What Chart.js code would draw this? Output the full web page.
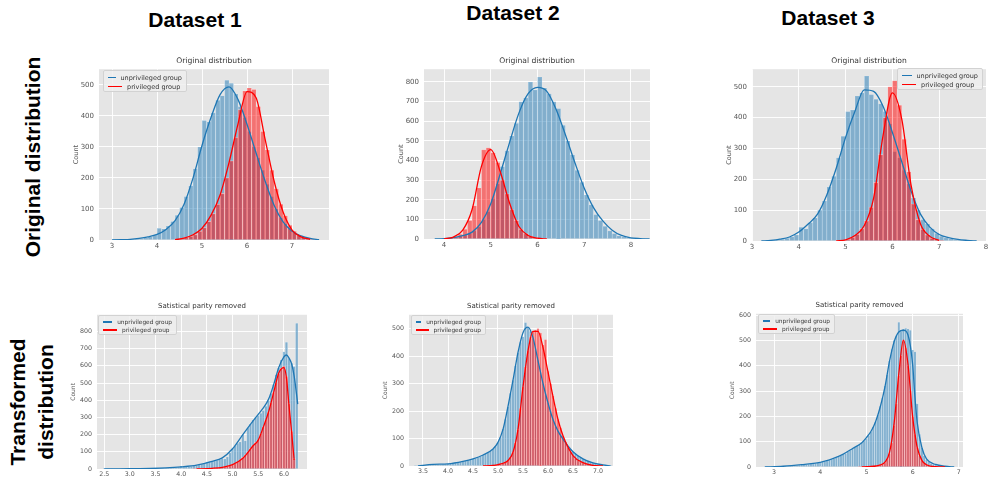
<!DOCTYPE html>
<html>
<head>
<meta charset="utf-8">
<script src="https://cdn.jsdelivr.net/npm/chart.js@4.4.0/dist/chart.umd.min.js"></script>
<style>
  html, body { margin: 0; padding: 0; background: #fff; overflow: hidden; }
  #page { position: relative; width: 989px; height: 481px; }
  canvas { position: absolute; }
  .head { position: absolute; font-family: "Liberation Sans", Arial, sans-serif; font-weight: bold;
          font-size: 21px; color: #000; transform: translate(-50%, -50%); white-space: nowrap; }
  .rowlab { position: absolute; font-family: "Liberation Sans", Arial, sans-serif; font-weight: bold;
            font-size: 21px; line-height: 28px; color: #000; text-align: center; white-space: nowrap;
            transform: translate(-50%, -50%) rotate(-90deg); }
  .ptitle { position: absolute; font-family: "DejaVu Sans", sans-serif; color: #333;
            transform: translate(-50%, -50%); white-space: nowrap; }
  .legend { position: absolute; box-sizing: border-box; padding: 2px 4px; background: rgba(238,238,238,0.85);
            border: 0.6px solid #d2d2d2; border-radius: 2px; font-family: "DejaVu Sans", sans-serif; color: #333; }
  .li { display: flex; align-items: center; white-space: nowrap; }
  .ln { display: inline-block; width: 14px; height: 1.5px; margin-right: 5px; }
</style>
</head>
<body>
<div id="page"></div>
<script>
// ---- Dataset 1, original distribution
const bins1 = [3.05,3.15,3.25,3.35,3.45,3.55,3.65,3.75,3.85,3.95,4.05,4.15,4.25,4.35,4.45,4.55,4.65,4.75,4.85,4.95,5.05,5.15,5.25,5.35,5.45,5.55,5.65,5.75,5.85,5.95,6.05,6.15,6.25,6.35,6.45,6.55,6.65,6.75,6.85,6.95,7.05,7.15,7.25,7.35,7.45,7.55];
const blue1 = [1,0,1,2,2,4,5,7,11,16,38,36,45,60,80,105,140,175,230,300,385,380,410,450,465,515,505,470,430,395,350,300,265,225,180,140,100,72,52,38,24,15,10,6,3,1];
const red1  = [0,0,0,0,0,0,0,0,0,0,0,0,0,0,2,4,8,12,18,28,40,60,85,115,150,200,255,330,420,480,490,485,430,350,290,225,165,115,78,48,28,16,9,4,1,0];
const kx1 = [3.0,3.2,3.4,3.6,3.8,4.0,4.2,4.4,4.6,4.8,5.0,5.2,5.4,5.6,5.8,6.0,6.2,6.4,6.6,6.8,7.0,7.2,7.4,7.6];
const blueK1 = [0,1,2,5,10,18,34,62,115,200,305,395,468,493,452,372,280,190,112,58,28,13,5,1];
const redK1  = [null,null,null,null,null,null,null,1,6,17,38,80,145,250,375,478,458,325,190,90,32,10,2,null];

// ---- Dataset 2, original distribution
const bins2 = [3.85,3.95,4.05,4.15,4.25,4.35,4.45,4.55,4.65,4.75,4.85,4.95,5.05,5.15,5.25,5.35,5.45,5.55,5.65,5.75,5.85,5.95,6.05,6.15,6.25,6.35,6.45,6.55,6.65,6.75,6.85,6.95,7.05,7.15,7.25,7.35,7.45,7.55,7.65,7.75,7.85,7.95,8.05,8.15,8.25,8.35];
const blue2 = [0,1,3,5,8,13,20,28,42,62,100,140,205,280,370,450,525,590,700,720,800,760,825,770,740,700,665,580,500,430,350,290,225,175,125,95,65,42,28,17,10,6,4,2,1,0];
const red2  = [0,0,2,5,12,25,50,95,170,260,455,465,440,390,300,230,150,95,50,28,14,6,2,0,0,0,0,0,0,0,0,0,0,0,0,0,0,0,0,0,0,0,0,0,0,0];
const kx2 = [3.8,4.0,4.2,4.4,4.6,4.8,5.0,5.2,5.4,5.6,5.8,6.0,6.2,6.4,6.6,6.8,7.0,7.2,7.4,7.6,7.8,8.0,8.2,8.4];
const blueK2 = [0,2,7,17,35,85,180,330,490,640,740,772,752,660,530,390,260,160,92,45,18,6,2,0];
const redK2  = [null,1,10,45,150,370,455,345,185,65,18,4,0,null,null,null,null,null,null,null,null,null,null,null];

// ---- Dataset 3, original distribution
const bins3 = [3.25,3.35,3.45,3.55,3.65,3.75,3.85,3.95,4.05,4.15,4.25,4.35,4.45,4.55,4.65,4.75,4.85,4.95,5.05,5.15,5.25,5.35,5.45,5.55,5.65,5.75,5.85,5.95,6.05,6.15,6.25,6.35,6.45,6.55,6.65,6.75,6.85,6.95,7.05,7.15,7.25,7.35,7.45,7.55,7.65,7.75];
const blue3 = [0,1,2,4,6,9,14,20,45,40,60,75,100,130,175,210,270,340,420,425,470,480,535,475,460,445,420,380,290,270,230,185,140,100,70,55,40,25,16,11,7,5,3,2,1,0];
const red3  = [0,0,0,0,0,0,0,0,0,0,0,0,0,0,0,0,1,3,6,12,22,40,65,110,190,280,400,500,520,440,330,225,120,70,38,20,9,4,1,0,0,0,0,0,0,0];
const kx3 = [3.2,3.4,3.6,3.8,4.0,4.2,4.4,4.6,4.8,5.0,5.2,5.4,5.6,5.8,6.0,6.2,6.4,6.6,6.8,7.0,7.2,7.4,7.6,7.8];
const blueK3 = [0,2,6,13,29,55,87,150,236,336,421,490,485,437,352,257,161,87,45,21,11,5,2,0];
const redK3  = [null,null,null,null,null,null,null,null,0,4,18,50,140,342,480,395,180,55,15,2,null,null,null,null];

// ---- Dataset 1, statistical parity removed
const bins4 = [2.5,2.55,2.6,2.65,2.7,2.75,2.8,2.85,2.9,2.95,3,3.05,3.1,3.15,3.2,3.25,3.3,3.35,3.4,3.45,3.5,3.55,3.6,3.65,3.7,3.75,3.8,3.85,3.9,3.95,4,4.05,4.1,4.15,4.2,4.25,4.3,4.35,4.4,4.45,4.5,4.55,4.6,4.65,4.7,4.75,4.8,4.85,4.9,4.95,5,5.05,5.1,5.15,5.2,5.25,5.3,5.35,5.4,5.45,5.5,5.55,5.6,5.65,5.7,5.75,5.8,5.85,5.9,5.95,6,6.05,6.1,6.15,6.2,6.25];
const blue4 = [1,1,1,1,1,1,1,1,1,2,2,2,2,2,2,3,3,3,3,4,4,4,5,5,6,6,7,8,9,10,18,12,13,14,16,18,22,25,30,36,42,44,46,48,52,56,62,58,70,95,118,135,150,158,200,165,240,262,285,300,312,325,340,365,398,440,490,548,588,634,682,738,645,615,596,848];
const red4  = [0,0,0,0,0,0,0,0,0,0,0,0,0,0,0,0,0,0,0,0,0,0,0,0,0,0,0,0,0,0,0,0,0,0,0,1,1,2,2,3,3,4,4,5,6,8,10,12,15,20,25,32,42,55,68,82,100,120,138,155,170,205,245,285,330,385,445,500,555,585,598,540,380,220,60,0];
const kx4 = [2.5,2.8,3.1,3.4,3.7,4.0,4.3,4.6,4.8,5.0,5.2,5.4,5.5,5.6,5.7,5.8,5.9,6.0,6.05,6.1,6.15,6.2,6.27];
const blueK4 = [1,1,2,3,6,12,22,44,65,118,200,280,318,355,405,490,590,652,663,645,612,540,377];
const redK4  = [null,null,null,null,null,null,0,4,10,25,62,135,168,244,330,444,558,590,530,368,215,53,null];

// ---- Dataset 2, statistical parity removed
const bins5 = [3.35,3.4,3.45,3.5,3.55,3.6,3.65,3.7,3.75,3.8,3.85,3.9,3.95,4,4.05,4.1,4.15,4.2,4.25,4.3,4.35,4.4,4.45,4.5,4.55,4.6,4.65,4.7,4.75,4.8,4.85,4.9,4.95,5,5.05,5.1,5.15,5.2,5.25,5.3,5.35,5.4,5.45,5.5,5.55,5.6,5.65,5.7,5.75,5.8,5.85,5.9,5.95,6,6.05,6.1,6.15,6.2,6.25,6.3,6.35,6.4,6.45,6.5,6.55,6.6,6.65,6.7,6.75,6.8,6.85,6.9,6.95,7,7.05,7.1,7.15,7.2,7.25];
const blue5 = [1,1,2,2,3,4,6,7,7,6,5,6,7,8,9,10,11,13,15,17,19,21,23,26,28,31,35,40,45,50,55,62,72,86,105,135,170,215,265,312,365,412,450,470,522,505,490,465,425,385,340,300,262,230,200,170,148,128,112,98,85,73,62,52,45,38,32,26,22,17,14,11,9,7,5,4,3,2,1];
const red5  = [0,0,0,0,0,0,0,0,0,0,0,0,0,0,0,0,0,0,0,0,0,0,0,0,0,0,0,0,1,1,2,2,3,5,6,10,14,20,32,50,85,133,210,288,360,419,470,490,495,500,485,440,460,345,300,255,210,170,140,110,88,68,52,38,28,20,15,12,8,5,3,2,1,0,0,0,0,0,0];
const kx5 = [3.4,3.7,4.0,4.3,4.5,4.7,4.9,5.0,5.1,5.2,5.3,5.4,5.5,5.6,5.7,5.8,5.9,6.0,6.1,6.2,6.3,6.5,6.7,6.9,7.1,7.25];
const blueK5 = [0,6,8,17,26,40,62,86,133,217,312,413,485,505,467,383,300,229,169,127,98,52,26,11,4,0];
const redK5  = [null,null,null,null,null,0,2,5,10,20,50,133,288,419,490,490,431,342,252,169,110,38,12,2,0,null];

// ---- Dataset 3, statistical parity removed
const bins6 = [2.85,2.9,2.95,3,3.05,3.1,3.15,3.2,3.25,3.3,3.35,3.4,3.45,3.5,3.55,3.6,3.65,3.7,3.75,3.8,3.85,3.9,3.95,4,4.05,4.1,4.15,4.2,4.25,4.3,4.35,4.4,4.45,4.5,4.55,4.6,4.65,4.7,4.75,4.8,4.85,4.9,4.95,5,5.05,5.1,5.15,5.2,5.25,5.3,5.35,5.4,5.45,5.5,5.55,5.6,5.65,5.7,5.75,5.8,5.85,5.9,5.95,6,6.05,6.1,6.15,6.2,6.25,6.3,6.35,6.4,6.45,6.5,6.55,6.6,6.65,6.7,6.75,6.8,6.85];
const blue6 = [1,1,1,1,2,2,2,3,3,3,4,4,5,6,7,8,9,10,11,12,13,14,16,17,20,22,24,27,30,33,37,40,45,50,54,60,66,72,78,84,90,96,104,112,125,138,158,180,205,240,275,320,365,420,465,500,520,572,535,545,548,545,540,462,455,250,130,75,45,30,20,14,10,8,6,4,3,2,2,1,1];
const red6  = [0,0,0,0,0,0,0,0,0,0,0,0,0,0,0,0,0,0,0,0,0,0,0,0,0,0,0,0,0,0,0,0,0,0,0,0,0,0,0,0,1,1,1,2,2,3,3,4,6,8,12,18,32,55,95,165,250,360,440,500,470,400,300,200,130,78,45,26,16,10,6,4,2,1,1,0,0,0,0,0,0];
const kx6 = [2.8,3.2,3.6,3.9,4.1,4.3,4.5,4.7,4.9,5.0,5.1,5.2,5.3,5.4,5.5,5.6,5.7,5.8,5.9,6.0,6.05,6.1,6.2,6.3,6.5,6.7,6.9];
const blueK6 = [0,3,9,15,23,35,51,73,96,116,141,180,238,315,418,495,533,540,521,405,276,174,77,32,10,3,0];
const redK6  = [null,null,null,null,null,null,null,null,0,1,2,4,8,19,58,174,366,501,405,199,130,77,26,9,1,0,null];

const series = [
  {bins: bins1, blue: blue1, red: red1, kx: kx1, blueK: blueK1, redK: redK1},
  {bins: bins2, blue: blue2, red: red2, kx: kx2, blueK: blueK2, redK: redK2},
  {bins: bins3, blue: blue3, red: red3, kx: kx3, blueK: blueK3, redK: redK3},
  {bins: bins4, blue: blue4, red: red4, kx: kx4, blueK: blueK4, redK: redK4},
  {bins: bins5, blue: blue5, red: red5, kx: kx5, blueK: blueK5, redK: redK5},
  {bins: bins6, blue: blue6, red: red6, kx: kx6, blueK: blueK6, redK: redK6}
];

// plot frames: plot-area box in page pixels, axis ranges, legend box
const frames = [
  {l: 99,  t: 66,  r: 329, b: 240, xMin: 2.71, xMax: 7.82, xStep: 1,   yMax: 550, row: 0, legend: [103, 70, 84, 22]},
  {l: 424, t: 66,  r: 650, b: 239, xMin: 3.57, xMax: 8.41, xStep: 1,   yMax: 865, row: 0, legend: null},
  {l: 752, t: 66,  r: 986, b: 241, xMin: 3,    xMax: 8,    xStep: 1,   yMax: 557, row: 0, legend: [897, 68, 86, 22]},
  {l: 97,  t: 312, r: 307, b: 469, xMin: 2.36, xMax: 6.45, xStep: 0.5, yMax: 897, row: 1, legend: [98, 315, 79, 20]},
  {l: 409, t: 312, r: 613, b: 466, xMin: 3.22, xMax: 7.3,  xStep: 0.5, yMax: 550, row: 1, legend: [411, 315, 75, 20]},
  {l: 756, t: 311, r: 963, b: 467, xMin: 2.61, xMax: 7.09, xStep: 1,   yMax: 605, row: 1, legend: [758, 314, 77, 20]}
];
const rowStyle = [
  {title: 'Original distribution', titleSize: 7.6, tickSize: 7, labelSize: 6.5, legendSize: 6.5},
  {title: 'Satistical parity removed', titleSize: 7, tickSize: 6.3, labelSize: 6, legendSize: 5.8}
];

const page = document.getElementById('page');
const AX_W = 30, AX_H = 14, PAD_T = 6, PAD_R = 10;

function addDiv(cls, html, style) {
  const d = document.createElement('div');
  d.className = cls;
  d.innerHTML = html;
  Object.assign(d.style, style);
  page.appendChild(d);
  return d;
}

addDiv('head', 'Dataset 1', {left: '195px', top: '20px'});
addDiv('head', 'Dataset 2', {left: '513px', top: '13px'});
addDiv('head', 'Dataset 3', {left: '828px', top: '18px'});
addDiv('rowlab', 'Original distribution', {left: '33px', top: '157px'});
addDiv('rowlab', 'Transformed<br>distribution', {left: '32px', top: '402px'});

const plotBg = {
  id: 'plotBg',
  beforeDraw(chart) {
    const {ctx, chartArea: a} = chart;
    ctx.save();
    ctx.fillStyle = '#E5E5E5';
    ctx.fillRect(a.left, a.top, a.right - a.left, a.bottom - a.top);
    ctx.restore();
  }
};

const toPts = (xs, ys) => xs.map((x, i) => ({x: x, y: ys[i]}));

// ticks on every multiple of step inside the axis range
function stepTicks(step) {
  return sc => {
    const out = [];
    for (let v = Math.ceil(sc.min / step - 1e-9) * step; v <= sc.max + 1e-9; v += step) {
      out.push({value: Math.round(v * 1000) / 1000});
    }
    sc.ticks = out;
  };
}

function makePlot(s, f) {
  const st = rowStyle[f.row];
  const W = f.r - f.l + AX_W + PAD_R;
  const H = f.b - f.t + PAD_T + AX_H;
  const cv = document.createElement('canvas');
  cv.width = W; cv.height = H;
  Object.assign(cv.style, {left: (f.l - AX_W) + 'px', top: (f.t - PAD_T) + 'px', width: W + 'px', height: H + 'px'});
  page.appendChild(cv);

  const tickFont = {family: 'DejaVu Sans', size: st.tickSize};
  const barCommon = {type: 'bar', grouped: false, barPercentage: 1, categoryPercentage: 1,
                     borderWidth: 0.4, borderColor: 'rgba(255,255,255,0.7)'};
  const lineCommon = {type: 'line', pointRadius: 0, borderWidth: 1.3, cubicInterpolationMode: 'monotone', spanGaps: false};

  new Chart(cv, {
    type: 'bar',
    data: {
      datasets: [
        Object.assign({}, lineCommon, {data: toPts(s.kx, s.redK), borderColor: '#ff0000', order: 0}),
        Object.assign({}, lineCommon, {data: toPts(s.kx, s.blueK), borderColor: '#1f77b4', order: 1}),
        Object.assign({}, barCommon, {data: toPts(s.bins, s.red), backgroundColor: 'rgba(255,0,0,0.5)', order: 2}),
        Object.assign({}, barCommon, {data: toPts(s.bins, s.blue), backgroundColor: 'rgba(31,119,180,0.5)', order: 3})
      ]
    },
    options: {
      responsive: false,
      animation: false,
      events: [],
      layout: {padding: {top: PAD_T, right: PAD_R, left: 0, bottom: 0}},
      plugins: {legend: {display: false}, tooltip: {enabled: false}, title: {display: false}},
      scales: {
        x: {
          type: 'linear', min: f.xMin, max: f.xMax, offset: false,
          grid: {color: '#ffffff', lineWidth: 0.9, drawTicks: false, offset: false},
          border: {display: false},
          ticks: {
            autoSkip: false, maxRotation: 0, padding: 2, color: '#555', font: tickFont,
            callback: v => f.xStep < 1 ? v.toFixed(1) : String(v)
          },
          afterBuildTicks: stepTicks(f.xStep),
          afterFit: sc => { sc.height = AX_H; }
        },
        y: {
          min: 0, max: f.yMax,
          grid: {color: '#ffffff', lineWidth: 0.9, drawTicks: false},
          border: {display: false},
          ticks: {autoSkip: false, padding: 5, color: '#555', font: tickFont, callback: v => String(v)},
          afterBuildTicks: stepTicks(100),
          title: {display: true, text: 'Count', color: '#555', padding: {top: 3, bottom: 0},
                  font: {family: 'DejaVu Sans', size: st.labelSize}},
          afterFit: sc => { sc.width = AX_W; }
        }
      }
    },
    plugins: [plotBg]
  });

  addDiv('ptitle', st.title, {left: ((f.l + f.r) / 2) + 'px', top: (f.t - 6) + 'px', fontSize: st.titleSize + 'px'});

  if (f.legend) {
    const [x, y, w, h] = f.legend;
    const rowH = (h - 4) / 2;
    addDiv('legend',
      '<div class="li" style="height:' + rowH + 'px"><span class="ln" style="background:#1f77b4"></span>unprivileged group</div>' +
      '<div class="li" style="height:' + rowH + 'px"><span class="ln" style="background:#ff0000"></span>privileged group</div>',
      {left: x + 'px', top: y + 'px', width: w + 'px', height: h + 'px', fontSize: st.legendSize + 'px'});
  }
}

series.forEach((s, i) => makePlot(s, frames[i]));
</script>
</body>
</html>
